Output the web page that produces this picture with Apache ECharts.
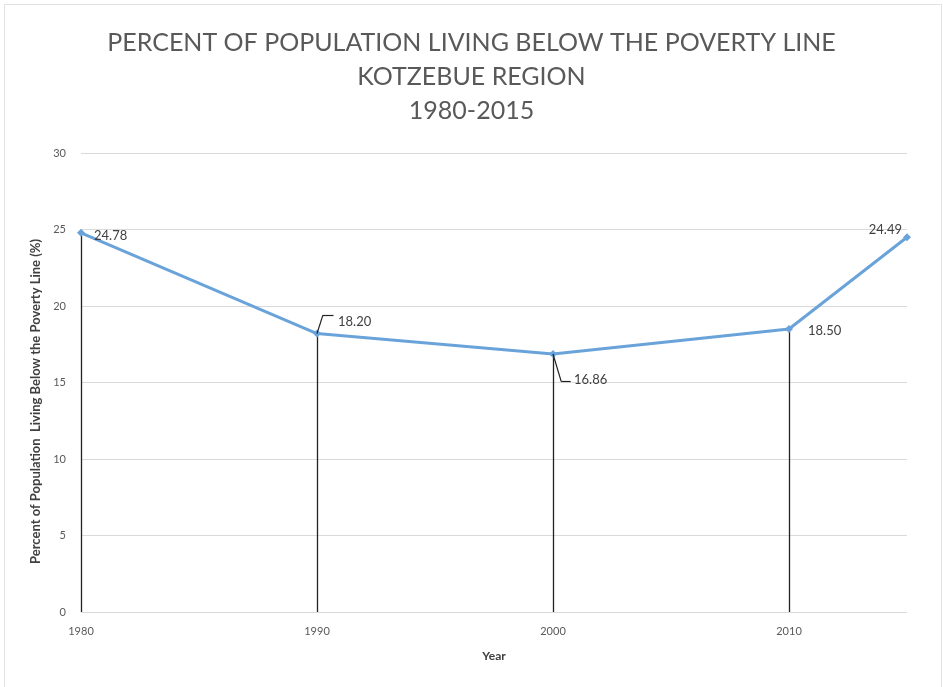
<!DOCTYPE html>
<html>
<head>
<meta charset="utf-8">
<script src="https://cdn.jsdelivr.net/npm/echarts@6/dist/echarts.min.js"></script>
<style>
  html, body { margin: 0; padding: 0; background: #fff; }
  #chart { width: 943px; height: 687px; }
</style>
</head>
<body>
<div id="chart"></div>
<script>
// Census years and share of the population below the poverty line (%)
const years = [1980, 1990, 2000, 2010, 2015];
const povertyPct = [24.78, 18.20, 16.86, 18.50, 24.49];
// Years that get a drop line down to the axis
const dropYears = [1980, 1990, 2000, 2010];
const titleLines = ['PERCENT OF POPULATION LIVING BELOW THE POVERTY LINE', 'KOTZEBUE REGION', '1980-2015'];
const yTicks = { min: 0, max: 30, step: 5 };

const FONT = 'Lato, "Open Sans", sans-serif';
const points = years.map((y, i) => [y, povertyPct[i]]);

// label placement per point
const labelPlace = {
  1980: { position: 'right', offset: [4, 3] },
  1990: { position: 'right', offset: [12, -12] },
  2000: { position: 'right', offset: [12, 26] },
  2010: { position: 'right', offset: [10, 2] },
  2015: { position: 'left', offset: [4, -7] }
};

const chart = echarts.init(document.getElementById('chart'));
chart.setOption({
  backgroundColor: '#fff',
  animation: false,
  graphic: [{
    type: 'rect', shape: { x: 4.5, y: 4.5, width: 937, height: 700 },
    style: { fill: 'none', stroke: '#e2e2e2', lineWidth: 1 }, silent: true
  }],
  title: {
    text: titleLines.join('\n'),
    left: 'center', top: 21,
    textStyle: { fontFamily: FONT, fontSize: 25, fontWeight: 'normal', color: '#595959', lineHeight: 34 }
  },
  grid: { left: 81, right: 36, top: 153, bottom: 75 },
  xAxis: {
    type: 'value', min: 1980, max: 2015, interval: 10,
    name: 'Year', nameLocation: 'middle', nameGap: 38,
    nameTextStyle: { fontFamily: FONT, fontSize: 12, fontWeight: 'bold', color: '#404040' },
    axisLine: { show: false }, axisTick: { show: false },
    splitLine: { show: false },
    axisLabel: { showMaxLabel: false, formatter: v => String(v), fontFamily: FONT, fontSize: 11, color: '#595959', margin: 14 }
  },
  yAxis: {
    type: 'value', min: yTicks.min, max: yTicks.max, interval: yTicks.step,
    name: 'Percent of Population  Living Below the Poverty Line (%)',
    nameLocation: 'middle', nameGap: 38, nameRotate: 90,
    nameTextStyle: { fontFamily: FONT, fontSize: 13, fontWeight: 'bold', color: '#404040', padding: [0, 0, 0, -38] },
    axisLine: { show: false }, axisTick: { show: false },
    splitLine: { lineStyle: { color: '#dadada', width: 1 } },
    axisLabel: { fontFamily: FONT, fontSize: 11, color: '#595959', margin: 15 }
  },
  series: [{
    type: 'line',
    data: points.map(p => ({
      value: p,
      label: labelPlace[p[0]]
    })),
    lineStyle: { color: '#6aa3da', width: 3 },
    itemStyle: { color: '#6aa3da' },
    symbol: 'diamond', symbolSize: 8,
    label: {
      show: true,
      formatter: p => p.value[1].toFixed(2),
      fontFamily: FONT, fontSize: 13, color: '#404040'
    },
    labelLine: { show: false },
    z: 3,
    markLine: {
      silent: true, symbol: 'none',
      lineStyle: { color: '#222', width: 1.3, type: 'solid' },
      label: { show: false },
      z: 2,
      data: dropYears.map(y => {
        const v = povertyPct[years.indexOf(y)];
        return [{ coord: [y, v] }, { coord: [y, 0] }];
      })
    }
  }, {
    // small leader strokes tying the middle labels to their points
    type: 'line', data: [], silent: true,
    markLine: {
      silent: true, symbol: 'none',
      lineStyle: { color: '#222', width: 1.2, type: 'solid' },
      label: { show: false },
      data: [
        [{ coord: [1990, povertyPct[1]] }, { coord: [1990.25, povertyPct[1] + 1.2] }],
        [{ coord: [1990.25, povertyPct[1] + 1.2] }, { coord: [1990.7, povertyPct[1] + 1.2] }],
        [{ coord: [2000, povertyPct[2]] }, { coord: [2000.35, povertyPct[2] - 1.8] }],
        [{ coord: [2000.35, povertyPct[2] - 1.8] }, { coord: [2000.75, povertyPct[2] - 1.8] }]
      ]
    }
  }]
});
</script>
</body>
</html>
